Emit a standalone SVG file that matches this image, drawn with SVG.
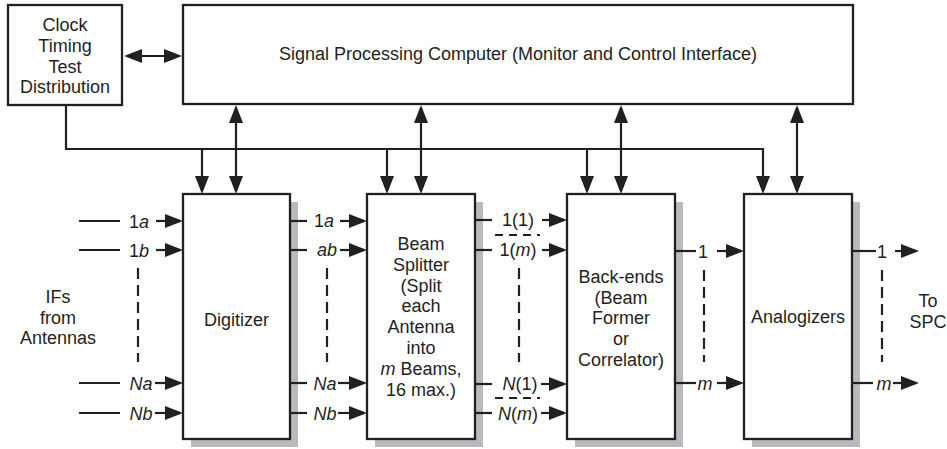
<svg xmlns="http://www.w3.org/2000/svg" width="947" height="449" viewBox="0 0 947 449">
<style>
text{font-family:"Liberation Sans",Arial,sans-serif;font-size:18px;fill:#231f20;text-anchor:middle}
.i{font-style:italic}
.box{fill:#fff;stroke:#231f20;stroke-width:2.3}
.sh{fill:#b9babd}
.ln{fill:none;stroke:#231f20;stroke-width:2.2}
.ar{fill:none;stroke:#231f20;stroke-width:2.2;marker-end:url(#ah)}
.da{fill:none;stroke:#231f20;stroke-width:2.2;marker-start:url(#ah);marker-end:url(#ah)}
.dv{fill:none;stroke:#231f20;stroke-width:2.2;stroke-dasharray:11 6}
.dh{fill:none;stroke:#231f20;stroke-width:2;stroke-dasharray:8 6}
</style>
<defs>
<marker id="ah" markerUnits="userSpaceOnUse" markerWidth="18" markerHeight="14" viewBox="0 0 18 14" refX="15" refY="7" orient="auto-start-reverse">
<path d="M0,0 L18,7 L0,14 z" fill="#231f20"/>
</marker>
</defs>

<g id="clock">
<rect class="box" x="8" y="5" width="114" height="100"/>
<text x="65" y="31">Clock</text>
<text x="65" y="52">Timing</text>
<text x="65" y="73">Test</text>
<text x="65" y="93">Distribution</text>
</g>

<g id="spc">
<rect class="box" x="183" y="5" width="670" height="99"/>
<text x="518" y="60">Signal Processing Computer (Monitor and Control Interface)</text>
</g>

<g id="digitizer">
<rect class="sh" x="191" y="202" width="107" height="245"/>
<rect class="box" x="183" y="194" width="107" height="245"/>
<text x="236.5" y="326">Digitizer</text>
</g>

<g id="beamsplitter">
<rect class="sh" x="375" y="202" width="108" height="245"/>
<rect class="box" x="367" y="194" width="108" height="245"/>
<text x="421" y="250">Beam</text>
<text x="421" y="271">Splitter</text>
<text x="421" y="292">(Split</text>
<text x="421" y="312">each</text>
<text x="421" y="333">Antenna</text>
<text x="421" y="354">into</text>
<text x="421" y="375"><tspan class="i">m</tspan> Beams,</text>
<text x="421" y="396">16 max.)</text>
</g>

<g id="backends">
<rect class="sh" x="575" y="202" width="108" height="245"/>
<rect class="box" x="567" y="194" width="108" height="245"/>
<text x="621" y="283">Back-ends</text>
<text x="621" y="304">(Beam</text>
<text x="621" y="324">Former</text>
<text x="621" y="345">or</text>
<text x="621" y="366">Correlator)</text>
</g>

<g id="analogizers">
<rect class="sh" x="752" y="202" width="108" height="245"/>
<rect class="box" x="744" y="194" width="108" height="245"/>
<text x="798" y="323">Analogizers</text>
</g>

<g id="ifs">
<text x="58" y="303">IFs</text>
<text x="58" y="324">from</text>
<text x="58" y="344">Antennas</text>
</g>

<g id="tospc">
<text x="928" y="307">To</text>
<text x="928" y="328">SPC</text>
</g>

<g id="labels">
<text x="139" y="227.5">1<tspan class="i">a</tspan></text>
<text x="139" y="256.5">1<tspan class="i">b</tspan></text>
<text x="141" y="389.5" class="i">Na</text>
<text x="141" y="419.5" class="i">Nb</text>

<text x="324" y="227">1<tspan class="i">a</tspan></text>
<text x="327" y="256" class="i">ab</text>
<text x="325" y="390" class="i">Na</text>
<text x="325" y="419.5" class="i">Nb</text>

<text x="518" y="226">1(1)</text>
<text x="518" y="256">1(<tspan class="i">m</tspan>)</text>
<text x="520" y="390"><tspan class="i">N</tspan>(1)</text>
<text x="518" y="419.5"><tspan class="i">N</tspan>(<tspan class="i">m</tspan>)</text>

<text x="703" y="257.5">1</text>
<text x="705" y="389.5" class="i">m</text>
<text x="882" y="257.5">1</text>
<text x="884" y="389.5" class="i">m</text>
</g>

<g id="connectors">
<line class="da" x1="127" y1="56" x2="179" y2="56"/>
<polyline class="ln" points="66,105 66,149 763,149"/>
<polyline class="ar" points="763,148 763,191"/>
<line class="ar" x1="202" y1="149" x2="202" y2="191"/>
<line class="ar" x1="387" y1="149" x2="387" y2="191"/>
<line class="ar" x1="587" y1="149" x2="587" y2="191"/>
<line class="da" x1="236" y1="108" x2="236" y2="191"/>
<line class="da" x1="421" y1="108" x2="421" y2="191"/>
<line class="da" x1="621" y1="108" x2="621" y2="191"/>
<line class="da" x1="797" y1="108" x2="797" y2="191"/>

<line class="ln" x1="79" y1="221" x2="120" y2="221"/>
<line class="ln" x1="79" y1="250" x2="120" y2="250"/>
<line class="ln" x1="79" y1="383" x2="120" y2="383"/>
<line class="ln" x1="79" y1="413" x2="120" y2="413"/>
<line class="ar" x1="156" y1="221" x2="180" y2="221"/>
<line class="ar" x1="156" y1="250" x2="180" y2="250"/>
<line class="ar" x1="155" y1="383" x2="180" y2="383"/>
<line class="ar" x1="155" y1="413" x2="180" y2="413"/>
<line class="dv" x1="138" y1="268" x2="138" y2="362"/>

<line class="ln" x1="290" y1="221" x2="307" y2="221"/>
<line class="ln" x1="290" y1="250" x2="307" y2="250"/>
<line class="ln" x1="290" y1="383" x2="307" y2="383"/>
<line class="ln" x1="290" y1="413" x2="307" y2="413"/>
<line class="ar" x1="340" y1="221" x2="364" y2="221"/>
<line class="ar" x1="340" y1="250" x2="364" y2="250"/>
<line class="ar" x1="338" y1="383" x2="364" y2="383"/>
<line class="ar" x1="338" y1="413" x2="364" y2="413"/>
<line class="dv" x1="327" y1="268" x2="327" y2="362"/>

<line class="ln" x1="475" y1="220" x2="492" y2="220"/>
<line class="ln" x1="475" y1="250" x2="492" y2="250"/>
<line class="ln" x1="475" y1="384" x2="492" y2="384"/>
<line class="ln" x1="475" y1="413" x2="492" y2="413"/>
<line class="ar" x1="542" y1="220" x2="564" y2="220"/>
<line class="ar" x1="542" y1="250" x2="564" y2="250"/>
<line class="ar" x1="541" y1="384" x2="564" y2="384"/>
<line class="ar" x1="541" y1="413" x2="564" y2="413"/>
<line class="dh" x1="495" y1="235" x2="540" y2="235"/>
<line class="dh" x1="495" y1="398" x2="540" y2="398"/>
<line class="dv" x1="519" y1="268" x2="519" y2="362"/>

<line class="ln" x1="675" y1="251" x2="696" y2="251"/>
<line class="ln" x1="675" y1="383" x2="696" y2="383"/>
<line class="ar" x1="717" y1="251" x2="741" y2="251"/>
<line class="ar" x1="717" y1="383" x2="741" y2="383"/>
<line class="dv" x1="704" y1="270" x2="704" y2="362"/>

<line class="ln" x1="852" y1="251" x2="876" y2="251"/>
<line class="ln" x1="852" y1="383" x2="873" y2="383"/>
<line class="ar" x1="895" y1="251" x2="916" y2="251"/>
<line class="ar" x1="893" y1="383" x2="916" y2="383"/>
<line class="dv" x1="882" y1="270" x2="882" y2="362"/>
</g>
</svg>
